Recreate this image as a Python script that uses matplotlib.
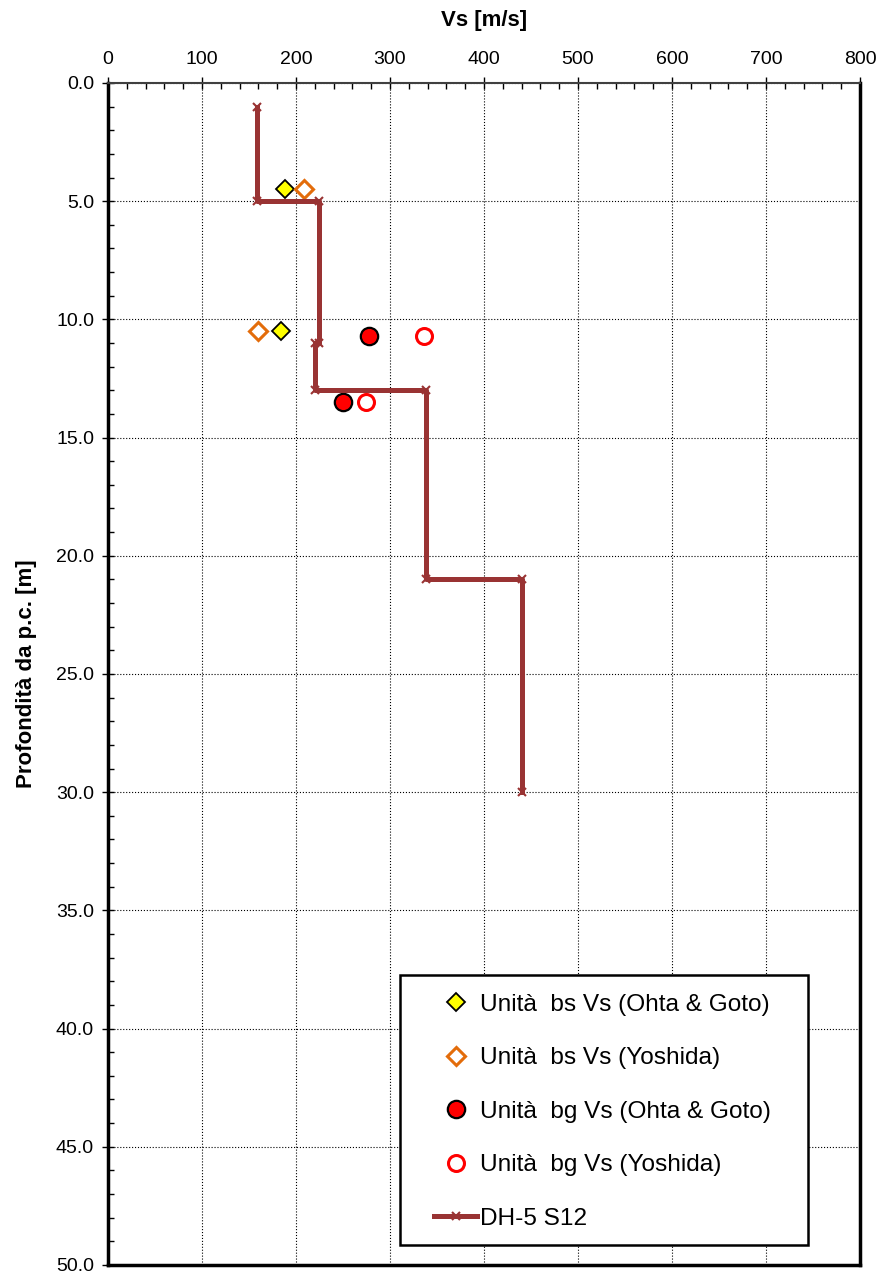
import numpy as np
import matplotlib.pyplot as plt
from matplotlib.patches import Rectangle
from matplotlib.ticker import MultipleLocator, FormatStrFormatter

plt.rcParams['font.family'] = ['Liberation Sans', 'DejaVu Sans']

# Profilo Vs da down-hole DH-5 S12
dh_vs = [158, 158, 225, 225, 220, 220, 338, 338, 440, 440]
dh_z = [1.0, 5.0, 5.0, 11.0, 11.0, 13.0, 13.0, 21.0, 21.0, 30.0]

# Unità bs
bs_ohta_vs = [188, 184]
bs_ohta_z = [4.5, 10.5]
bs_yosh_vs = [208, 160]
bs_yosh_z = [4.5, 10.5]

# Unità bg
bg_ohta_vs = [278, 250]
bg_ohta_z = [10.7, 13.5]
bg_yosh_vs = [336, 275]
bg_yosh_z = [10.7, 13.5]

fig = plt.figure(figsize=(8.8, 12.78), dpi=100)
ax = fig.add_axes([0.1227, 0.0102, 0.8546, 0.9249])

ax.plot(bs_ohta_vs, bs_ohta_z, linestyle='none', marker='D', markersize=9,
        markerfacecolor='#ffff00', markeredgecolor='black', markeredgewidth=1.3,
        label='Unità  bs Vs (Ohta & Goto)')
ax.plot(bs_yosh_vs, bs_yosh_z, linestyle='none', marker='D', markersize=9,
        markerfacecolor='white', markeredgecolor='#e36c0a', markeredgewidth=2.2,
        label='Unità  bs Vs (Yoshida)')
ax.plot(bg_ohta_vs, bg_ohta_z, linestyle='none', marker='o', markersize=12.5,
        markerfacecolor='#ff0000', markeredgecolor='black', markeredgewidth=1.6,
        label='Unità  bg Vs (Ohta & Goto)')
ax.plot(bg_yosh_vs, bg_yosh_z, linestyle='none', marker='o', markersize=11.5,
        markerfacecolor='white', markeredgecolor='#ff0000', markeredgewidth=2.2,
        label='Unità  bg Vs (Yoshida)')
ax.plot(dh_vs, dh_z, color='#993333', linewidth=3.6, marker='x', markersize=6,
        markeredgewidth=1.5, label='DH-5 S12')

ax.set_xlim(0, 800)
ax.set_ylim(50, 0)
ax.xaxis.set_major_locator(MultipleLocator(100))
ax.xaxis.set_minor_locator(MultipleLocator(20))
ax.yaxis.set_major_locator(MultipleLocator(5))
ax.yaxis.set_minor_locator(MultipleLocator(1))
ax.yaxis.set_major_formatter(FormatStrFormatter('%.1f'))
ax.xaxis.tick_top()
ax.xaxis.set_label_position('top')
ax.tick_params(which='major', direction='inout', length=8, width=1, labelsize=14)
ax.tick_params(axis='x', which='major', pad=7)
ax.tick_params(axis='y', which='major', pad=6)
ax.tick_params(which='minor', direction='in', length=4, width=1)
ax.tick_params(axis='x', which='both', top=True, bottom=False)
ax.tick_params(axis='y', which='both', left=True, right=False)

ax.grid(True, which='major', color='black', linestyle=':', linewidth=0.8)

for side in ['left', 'right', 'bottom']:
    ax.spines[side].set_linewidth(2.5)
ax.spines['top'].set_linewidth(1.5)
ax.spines['top'].set_color('#404040')

ax.set_xlabel('Vs [m/s]', fontsize=16, fontweight='bold', labelpad=18)
ax.set_ylabel('Profondità da p.c. [m]', fontsize=16, fontweight='bold', labelpad=14)

# riquadro della legenda disegnato a parte
box = Rectangle((0.388, 0.0169), 0.543, 0.2284, transform=ax.transAxes,
                facecolor='white', edgecolor='black', linewidth=1.8, zorder=4)
ax.add_patch(box)

leg = ax.legend(loc='upper left', bbox_to_anchor=(0.4335, 0.2293), fontsize=17.6,
                frameon=False, labelspacing=1.28, borderpad=0, handlelength=1.77,
                handletextpad=0.12, borderaxespad=0)
leg.set_zorder(5)

fig.savefig('out.png', dpi=100)
